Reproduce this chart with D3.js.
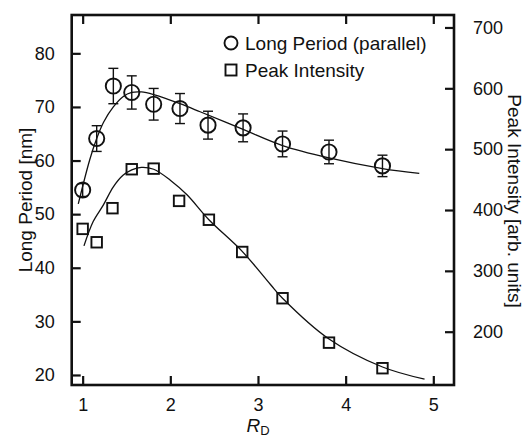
<!DOCTYPE html>
<html>
<head>
<meta charset="utf-8">
<script src="https://cdn.jsdelivr.net/npm/d3@7"></script>
<style>
  html, body { margin: 0; padding: 0; background: #fff; }
  svg { display: block; }
  text { font-family: "Liberation Sans", Arial, sans-serif; fill: #111; }
</style>
</head>
<body>
<svg id="chart" width="525" height="439"></svg>
<script>
// ---- data ----
const rd          = [1.00, 1.16, 1.35, 1.56, 1.81, 2.11, 2.43, 2.83, 3.28, 3.81, 4.42];
const longPeriod  = [54.5, 64.1, 73.9, 72.7, 70.5, 69.7, 66.6, 66.1, 63.1, 61.6, 59.0];
const lpError     = [1.2, 2.4, 3.3, 3.1, 2.95, 2.8, 2.6, 2.6, 2.4, 2.2, 2.0];
const rdPeak      = [1.00, 1.16, 1.34, 1.56, 1.81, 2.10, 2.44, 2.82, 3.28, 3.81, 4.42];
const peakIntensity = [369, 347, 403, 467, 468, 415, 384, 331, 255, 182, 140];

// fitted curves
const lpFitR   = [0.95, 1.08, 1.16, 1.24, 1.35, 1.46, 1.56, 1.67, 1.81, 2.11, 2.34, 2.83, 3.28, 3.81, 4.42, 4.84];
const lpFitV   = [51.9, 60.1, 64.1, 67.2, 70.0, 71.9, 72.7, 72.8, 72.3, 70.6, 69.1, 65.8, 62.8, 60.5, 58.5, 57.6];
const pkFitR   = [1.015, 1.12, 1.235, 1.35, 1.46, 1.56, 1.67, 1.81, 2.0, 2.19, 2.44, 2.82, 3.14, 3.28, 3.81, 4.42, 4.90];
const pkFitV   = [341, 381, 408, 438, 457, 466, 470, 467, 449, 425, 384, 332, 278, 255, 188, 142, 122];

const xTicks     = [1, 2, 3, 4, 5];
const leftTicks  = [20, 30, 40, 50, 60, 70, 80];
const rightTicks = [200, 300, 400, 500, 600, 700];
const legendLabels = ["Long Period (parallel)", "Peak Intensity"];

// ---- layout ----
const L = 71.7, R = 454, T = 15, B = 385;
const svg = d3.select("#chart");

const x  = d3.scaleLinear().domain([0.875, 5.236]).range([L, R]);
const yL = d3.scaleLinear().domain([18.13, 87.15]).range([B, T]);
const yR = d3.scaleLinear().domain([112.4, 720.5]).range([B, T]);

const tickLen = 9;
function styleAxis(g) {
  g.select(".domain").remove();
  g.selectAll(".tick line").attr("stroke", "#111").attr("stroke-width", 2.2);
  g.selectAll(".tick text").style("font-size", "18px").attr("fill", "#111");
}

svg.append("g").attr("transform", `translate(0,${B})`)
  .call(d3.axisBottom(x).tickValues(xTicks).tickFormat(d3.format("d")).tickSizeInner(-tickLen).tickSizeOuter(0).tickPadding(13))
  .call(styleAxis);
svg.append("g").attr("transform", `translate(0,${T})`)
  .call(d3.axisTop(x).tickValues(xTicks).tickFormat("").tickSizeInner(-tickLen).tickSizeOuter(0))
  .call(styleAxis);
svg.append("g").attr("transform", `translate(${L},0)`)
  .call(d3.axisLeft(yL).tickValues(leftTicks).tickFormat(d3.format("d")).tickSizeInner(-tickLen).tickSizeOuter(0).tickPadding(17))
  .call(styleAxis);
svg.append("g").attr("transform", `translate(${R},0)`)
  .call(d3.axisRight(yR).tickValues(rightTicks).tickFormat(d3.format("d")).tickSizeInner(-tickLen).tickSizeOuter(0).tickPadding(19))
  .call(styleAxis);

svg.append("rect").attr("x", L).attr("y", T).attr("width", R - L).attr("height", B - T)
  .attr("fill", "none").attr("stroke", "#111").attr("stroke-width", 2.6);

const lpLine = d3.line().x((d, i) => x(lpFitR[i])).y(d => yL(d)).curve(d3.curveCatmullRom.alpha(0.5));
svg.append("path").attr("d", lpLine(lpFitV)).attr("fill", "none").attr("stroke", "#111").attr("stroke-width", 1.3);
const pkLine = d3.line().x((d, i) => x(pkFitR[i])).y(d => yR(d)).curve(d3.curveCatmullRom.alpha(0.5));
svg.append("path").attr("d", pkLine(pkFitV)).attr("fill", "none").attr("stroke", "#111").attr("stroke-width", 1.3);

const eb = svg.append("g").attr("stroke", "#111").attr("stroke-width", 1.4);
longPeriod.forEach((v, i) => {
  const cx = x(rd[i]), y1 = yL(v + lpError[i]), y2 = yL(v - lpError[i]);
  eb.append("line").attr("x1", cx).attr("x2", cx).attr("y1", y1).attr("y2", y2);
  eb.append("line").attr("x1", cx - 5).attr("x2", cx + 5).attr("y1", y1).attr("y2", y1);
  eb.append("line").attr("x1", cx - 5).attr("x2", cx + 5).attr("y1", y2).attr("y2", y2);
});

svg.append("g").selectAll("circle").data(longPeriod).join("circle")
  .attr("cx", (d, i) => x(rd[i])).attr("cy", d => yL(d)).attr("r", 7.6)
  .attr("fill", "none").attr("stroke", "#111").attr("stroke-width", 1.9);

const sq = 10.5;
svg.append("g").selectAll("rect").data(peakIntensity).join("rect")
  .attr("x", (d, i) => x(rdPeak[i]) - sq / 2).attr("y", d => yR(d) - sq / 2)
  .attr("width", sq).attr("height", sq)
  .attr("fill", "none").attr("stroke", "#111").attr("stroke-width", 1.9);

const lg = svg.append("g");
lg.append("circle").attr("cx", 231).attr("cy", 43).attr("r", 6.5).attr("fill", "none").attr("stroke", "#111").attr("stroke-width", 1.9);
lg.append("rect").attr("x", 225.5).attr("y", 64.5).attr("width", 11).attr("height", 11).attr("fill", "none").attr("stroke", "#111").attr("stroke-width", 1.9);
lg.append("text").attr("x", 245).attr("y", 49.5).style("font-size", "19px").text(legendLabels[0]);
lg.append("text").attr("x", 245).attr("y", 76.5).style("font-size", "19px").text(legendLabels[1]);

svg.append("text").attr("transform", "translate(32,200) rotate(-90)").attr("text-anchor", "middle")
  .style("font-size", "19px").text("Long Period [nm]");
svg.append("text").attr("transform", "translate(508,201) rotate(90)").attr("text-anchor", "middle")
  .style("font-size", "19px").text("Peak Intensity [arb. units]");
const xt = svg.append("text").attr("x", 258).attr("y", 432).attr("text-anchor", "middle").style("font-size", "19px");
xt.append("tspan").style("font-style", "italic").text("R");
xt.append("tspan").attr("dy", 3).style("font-size", "13px").text("D");
</script>
</body>
</html>
